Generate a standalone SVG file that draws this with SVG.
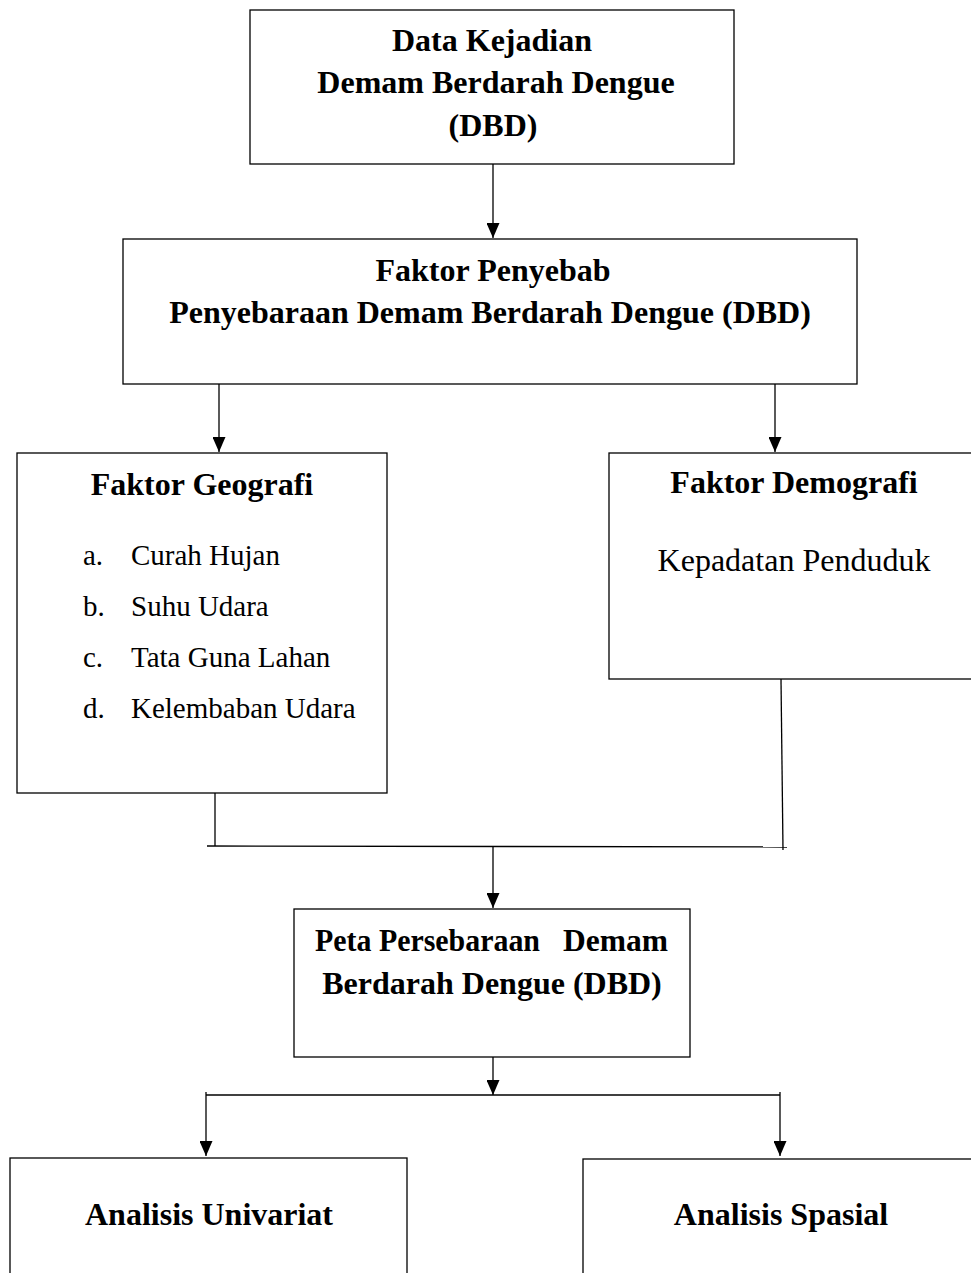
<svg xmlns="http://www.w3.org/2000/svg" width="971" height="1273" viewBox="0 0 971 1273">
<defs>
<marker id="ah" markerWidth="15" markerHeight="13" refX="15" refY="6.5" orient="auto" markerUnits="userSpaceOnUse" viewBox="0 0 15 13">
<path d="M0,0 L15,6.5 L0,13 Z" fill="#000"/>
</marker>
</defs>
<style>
.box{fill:#fff;stroke:#000;stroke-width:1.3}
.ln{fill:none;stroke:#000;stroke-width:1.3}
.b{font-family:"Liberation Serif","Times New Roman",serif;font-weight:bold;font-size:32px;fill:#000;text-anchor:middle}
.r{font-family:"Liberation Serif","Times New Roman",serif;font-size:29px;fill:#000}
</style>
<rect width="971" height="1273" fill="#fff"/>
<g id="connectors">
<line class="ln" x1="493" y1="164" x2="493" y2="238" marker-end="url(#ah)"/>
<line class="ln" x1="219" y1="384" x2="219" y2="452" marker-end="url(#ah)"/>
<line class="ln" x1="775" y1="384" x2="775" y2="452" marker-end="url(#ah)"/>
<line class="ln" x1="215" y1="793" x2="215" y2="846"/>
<line class="ln" x1="781" y1="679" x2="783" y2="850"/>
<line class="ln" x1="207" y1="846" x2="787" y2="847"/>
<line class="ln" x1="493" y1="846" x2="493" y2="908" marker-end="url(#ah)"/>
<line class="ln" x1="493" y1="1057" x2="493" y2="1095" marker-end="url(#ah)"/>
<line class="ln" x1="206" y1="1095" x2="780" y2="1095"/>
<line class="ln" x1="206" y1="1092" x2="206" y2="1156" marker-end="url(#ah)"/>
<line class="ln" x1="780" y1="1092" x2="780" y2="1156" marker-end="url(#ah)"/>
</g>
<g id="n1">
<rect class="box" x="250" y="10" width="484" height="154"/>
<text class="b" x="492" y="51">Data Kejadian</text>
<text class="b" x="496" y="93">Demam Berdarah Dengue</text>
<text class="b" x="493" y="136">(DBD)</text>
</g>
<g id="n2">
<rect class="box" x="123" y="239" width="734" height="145"/>
<text class="b" x="493" y="281">Faktor Penyebab</text>
<text class="b" x="490" y="323">Penyebaraan Demam Berdarah Dengue (DBD)</text>
</g>
<g id="n3">
<rect class="box" x="17" y="453" width="370" height="340"/>
<text class="b" x="202" y="495">Faktor Geografi</text>
<text class="r" x="83" y="565">a.</text><text class="r" x="131" y="565">Curah Hujan</text>
<text class="r" x="83" y="616">b.</text><text class="r" x="131" y="616">Suhu Udara</text>
<text class="r" x="83" y="667">c.</text><text class="r" x="131" y="667">Tata Guna Lahan</text>
<text class="r" x="83" y="718">d.</text><text class="r" x="131" y="718">Kelembaban Udara</text>
</g>
<g id="n4">
<rect class="box" x="609" y="453" width="370" height="226"/>
<text class="b" x="794" y="493">Faktor Demografi</text>
<text class="r" x="794" y="571" text-anchor="middle" style="font-size:32px">Kepadatan Penduduk</text>
</g>
<g id="n5">
<rect class="box" x="294" y="909" width="396" height="148"/>
<text class="b" x="315" y="951" style="text-anchor:start" textLength="225" lengthAdjust="spacingAndGlyphs">Peta Persebaraan</text>
<text class="b" x="563" y="951" style="text-anchor:start" textLength="105" lengthAdjust="spacingAndGlyphs">Demam</text>
<text class="b" x="492" y="994">Berdarah Dengue (DBD)</text>
</g>
<g id="n6">
<rect class="box" x="10" y="1158" width="397" height="130"/>
<text class="b" x="209" y="1225">Analisis Univariat</text>
</g>
<g id="n7">
<rect class="box" x="583" y="1159" width="400" height="130"/>
<text class="b" x="781" y="1225">Analisis Spasial</text>
</g>
</svg>
